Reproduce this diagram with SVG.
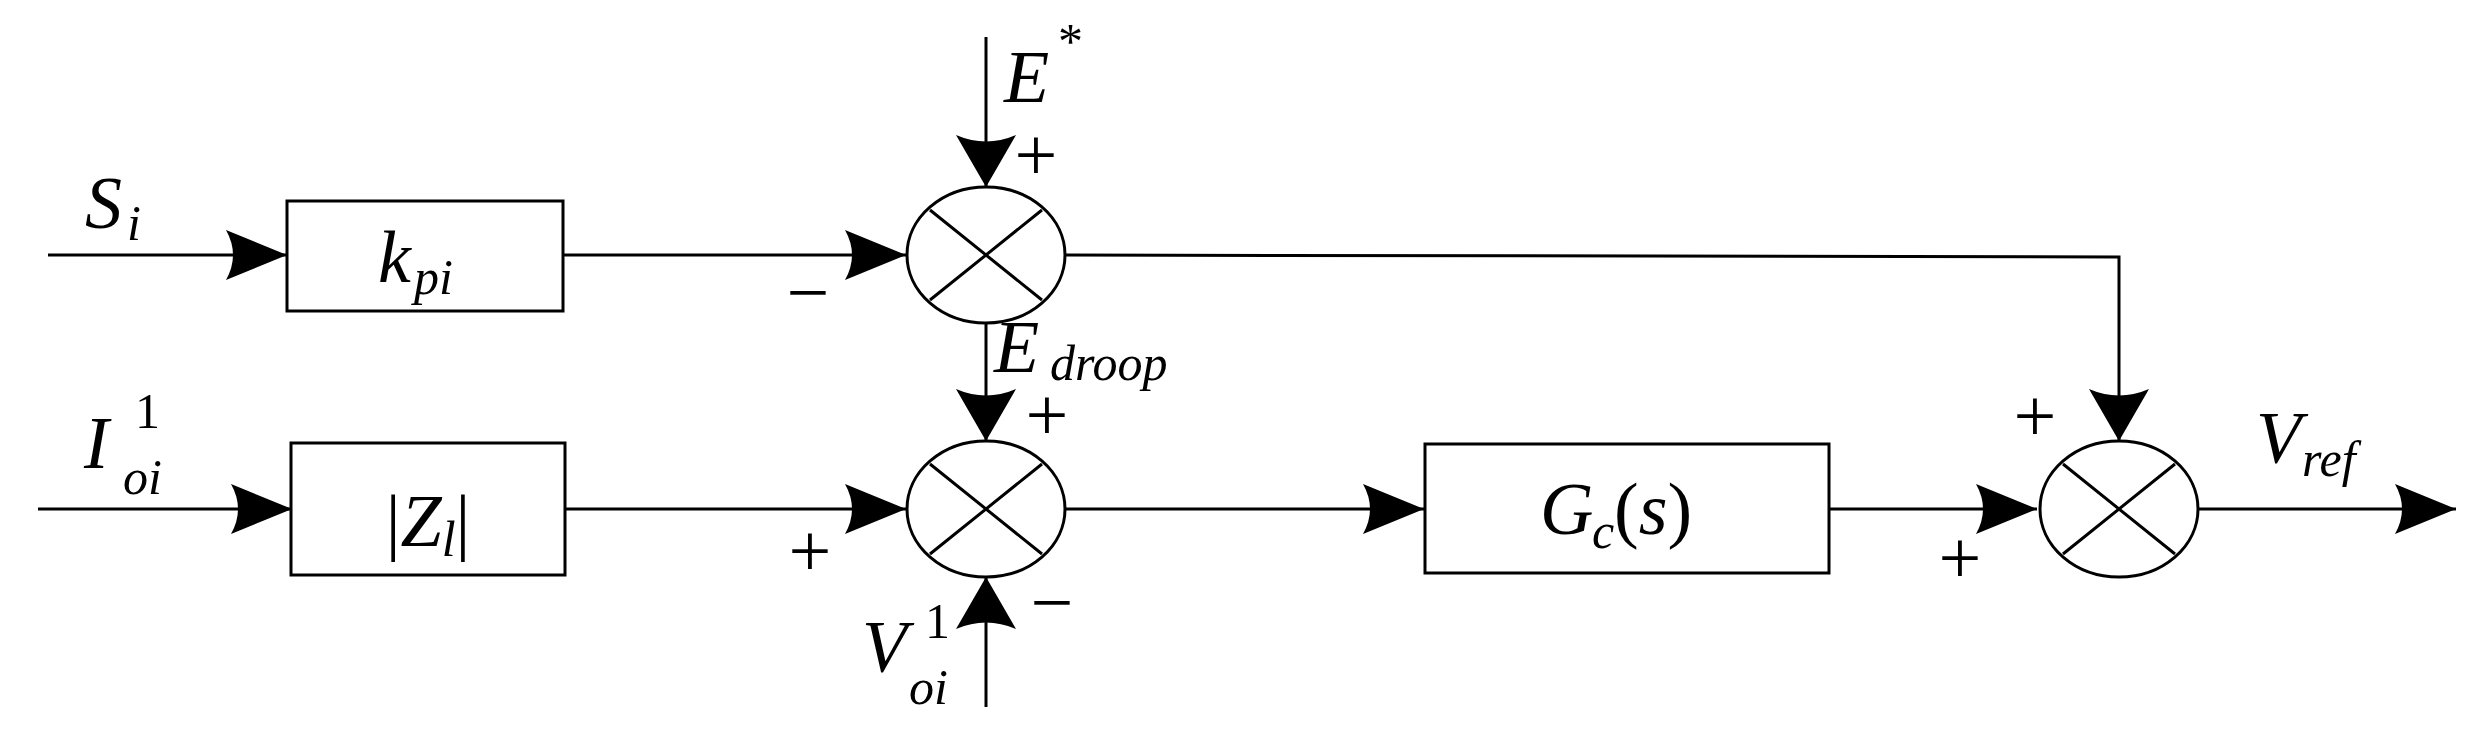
<svg xmlns="http://www.w3.org/2000/svg" width="2490" height="744" viewBox="0 0 2490 744" font-family="'Liberation Serif','DejaVu Serif',serif">
<style>
.l{stroke:#000;stroke-width:3;fill:none}
.b{stroke:#000;stroke-width:3;fill:#fff}
.a{fill:#000}
text{font-family:'Liberation Serif','DejaVu Serif',serif;fill:#000}
.i{font-style:italic}
.m{font-size:74px}
.s{font-size:50px}
.p{font-size:76px}
</style>
<rect width="2490" height="744" fill="#fff"/>
<g id="connectors">
<path class="l" d="M48 255H287M563 255H906M986 37V187M986 323V441M38 509H292M565 509H906M986 707V577M1065 255L2119 257V441M1065 509H1424M1829 509H2037M2198 509H2456"/>
<path class="a" d="M287 255L226 230Q240 255 226 280Z"/>
<path class="a" d="M906 255L845 230Q859 255 845 280Z"/>
<path class="a" d="M292 509L231 484Q245 509 231 534Z"/>
<path class="a" d="M906 509L845 484Q859 509 845 534Z"/>
<path class="a" d="M1424 509L1363 484Q1377 509 1363 534Z"/>
<path class="a" d="M2037 509L1976 484Q1990 509 1976 534Z"/>
<path class="a" d="M2456 509L2395 484Q2409 509 2395 534Z"/>
<path class="a" d="M986 187L956 135Q986 148 1016 135Z"/>
<path class="a" d="M986 441L956 389Q986 402 1016 389Z"/>
<path class="a" d="M2119 441L2089 389Q2119 402 2149 389Z"/>
<path class="a" d="M986 577L956 629Q986 616 1016 629Z"/>
</g>
<g id="kpi"><rect class="b" x="287" y="201" width="276" height="110"/>
<text x="378" y="282" class="i m">k</text><text x="414" y="294" class="i s">pi</text></g>
<g id="zl"><rect class="b" x="291" y="443" width="274" height="132"/>
<text x="428" y="546" class="m" text-anchor="middle">|<tspan class="i">Z</tspan><tspan class="i s" dy="10">l</tspan><tspan dy="-10">|</tspan></text></g>
<g id="gc"><rect class="b" x="1425" y="444" width="404" height="129"/>
<text x="1540" y="534" class="i m">G</text><text x="1592" y="548" class="i s">c</text><text x="1614" y="534" class="m">(<tspan class="i">s</tspan>)</text></g>
<g id="sum1"><ellipse class="b" cx="986" cy="255" rx="79" ry="68"/><path class="l" d="M930 210L1042 300M930 300L1042 210"/></g>
<g id="sum2"><ellipse class="b" cx="986" cy="509" rx="79" ry="68"/><path class="l" d="M930 464L1042 554M930 554L1042 464"/></g>
<g id="sum3"><ellipse class="b" cx="2119" cy="509" rx="79" ry="68"/><path class="l" d="M2063 464L2175 554M2063 554L2175 464"/></g>
<g id="labels">
<text x="85" y="228" class="i m">S</text><text x="127" y="240" class="i s">i</text>
<text x="84" y="468" class="i m">I</text><text x="135" y="428" class="s">1</text><text x="123" y="494" class="i s">oi</text>
<text x="1004" y="102" class="i m">E</text><text x="1058" y="58" class="s">*</text>
<text x="994" y="372" class="i m">E</text><text x="1050" y="380" class="i s">droop</text>
<text x="862" y="672" class="i m">V</text><text x="925" y="638" class="s">1</text><text x="909" y="704" class="i s">oi</text>
<text x="2256" y="463" class="i m">V</text><text x="2302" y="476" class="i s">ref</text>
<text x="1036" y="180" class="p" text-anchor="middle">+</text>
<text x="1047" y="440" class="p" text-anchor="middle">+</text>
<text x="810" y="576" class="p" text-anchor="middle">+</text>
<text x="2035" y="441" class="p" text-anchor="middle">+</text>
<text x="1960" y="583" class="p" text-anchor="middle">+</text>
<text x="808" y="318" class="p" text-anchor="middle">−</text>
<text x="1052" y="628" class="p" text-anchor="middle">−</text>
</g>
</svg>
